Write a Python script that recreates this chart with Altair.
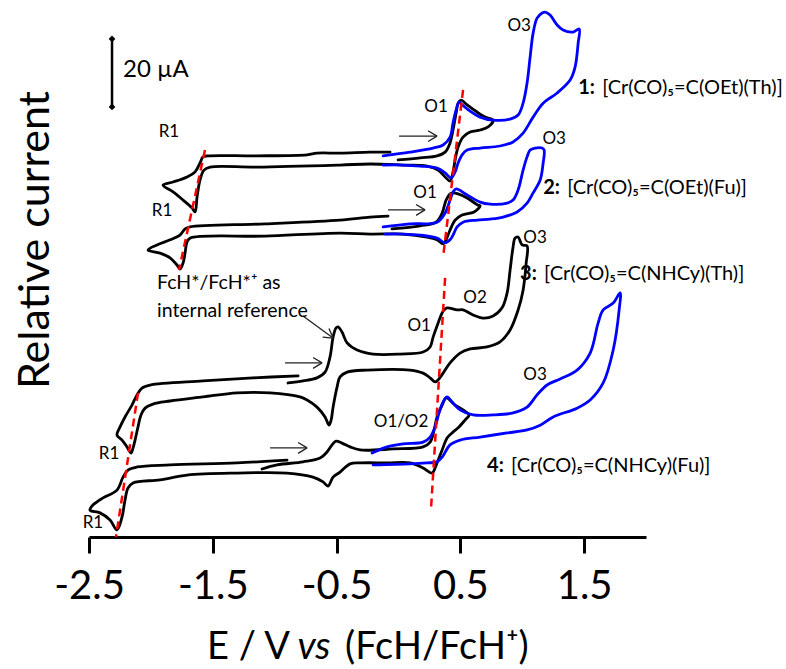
import altair as alt
import pandas as pd

FONT = "Lato"

# ---------------- CV traces (E in V vs FcH/FcH+, I in uA incl. vertical offset) -------------
c1k_E = [-0.003, 0.175, 0.312, 0.377, 0.417, 0.441, 0.466, 0.482, 0.506, 0.555, 0.635, 0.700, 0.765,
         0.724, 0.660, 0.579, 0.522, 0.482, 0.458, 0.441, 0.417, 0.377, 0.320, 0.231, 0.037, -0.229,
         -0.472, -1.142, -1.522, -1.571, -1.603, -1.627, -1.643, -1.668, -1.740, -1.821, -1.902,
         -1.821, -1.708, -1.643, -1.603, -1.579, -1.538, -1.142, -0.738, -0.658, -0.472, -0.229, -0.068]
c1k_I = [110.9, 111.5, 112.1, 113.2, 115.9, 119.7, 124.7, 127.6, 128.5, 127.1, 125.0, 123.5, 122.6,
         120.6, 119.7, 119.1, 117.6, 114.7, 110.9, 107.4, 104.7, 105.9, 107.9, 109.1, 109.4, 109.7,
         109.4, 108.8, 108.8, 107.9, 105.0, 100.0, 95.6, 96.8, 99.1, 101.5, 103.5,
         104.4, 105.9, 107.4, 110.0, 111.8, 112.1, 112.1, 112.4, 112.9, 112.9, 113.2, 113.2]

c1b_E = [-0.124, 0.094, 0.280, 0.361, 0.417, 0.441, 0.466, 0.490, 0.506, 0.555, 0.660, 0.765, 0.902,
         0.967, 1.007, 1.039, 1.064, 1.088, 1.120, 1.161, 1.185, 1.225, 1.282, 1.330, 1.411, 1.460,
         1.452, 1.427, 1.387, 1.282, 1.169, 1.088, 1.007, 0.926, 0.821, 0.660, 0.555, 0.514, 0.482,
         0.458, 0.425, 0.377, 0.312, 0.175, 0.037, -0.124]
c1b_I = [112.1, 113.2, 114.4, 115.3, 117.6, 121.8, 125.6, 127.9, 127.4, 125.9, 123.5, 122.6, 122.9,
         124.1, 127.6, 133.5, 141.2, 148.2, 152.6, 154.1, 154.4, 153.5, 150.6, 149.1, 148.5, 149.4,
         145.3, 138.2, 134.4, 130.6, 127.6, 123.5, 118.8, 116.2, 115.0, 114.4, 113.8, 112.4, 110.0,
         107.4, 105.6, 107.1, 108.5, 109.1, 109.4, 109.4]

c2k_E = [-0.052, 0.175, 0.304, 0.353, 0.385, 0.417, 0.441, 0.482, 0.555, 0.643, 0.660, 0.611, 0.514,
         0.458, 0.417, 0.385, 0.361, 0.312, 0.231, 0.037, -0.229, -0.472, -1.078, -1.684, -1.708,
         -1.724, -1.740, -1.765, -1.789, -1.845, -1.926, -2.023, -1.951, -1.845, -1.765, -1.724,
         -1.684, -1.078, -0.472, -0.229, -0.084]
c2k_I = [90.6, 91.5, 92.6, 95.3, 99.1, 100.9, 101.2, 100.9, 99.7, 97.6, 97.4, 95.6, 94.7,
         93.2, 90.3, 87.4, 86.2, 87.4, 88.2, 89.1, 89.1, 89.4, 88.5, 87.9, 86.8,
         83.5, 80.6, 78.8, 80.0, 82.1, 83.5, 84.4, 85.9, 87.4, 88.8, 90.6,
         91.2, 92.1, 93.2, 94.1, 94.4]

c2b_E = [-0.124, 0.094, 0.312, 0.377, 0.417, 0.441, 0.466, 0.555, 0.660, 0.740, 0.878, 0.926, 0.967,
         1.007, 1.039, 1.064, 1.104, 1.161, 1.177, 1.169, 1.145, 1.088, 1.039, 0.959, 0.845, 0.740,
         0.635, 0.522, 0.474, 0.441, 0.417, 0.377, 0.312, 0.175, 0.037, -0.108]
c2b_I = [91.2, 92.1, 92.6, 95.3, 99.1, 101.5, 102.4, 100.6, 98.5, 97.9, 98.2, 99.1, 102.1,
         107.9, 111.8, 113.8, 114.4, 114.4, 113.8, 110.0, 105.0, 101.2, 98.2, 95.6, 94.1, 93.5,
         93.2, 92.6, 91.2, 88.8, 87.4, 86.5, 87.9, 88.8, 89.1, 89.1]

c3k_E = [-0.892, -0.771, -0.658, -0.593, -0.553, -0.528, -0.504, -0.488, -0.456, -0.415, -0.334,
         -0.205, 0.013, 0.199, 0.256, 0.280, 0.320, 0.353, 0.369, 0.393, 0.474, 0.522, 0.603, 0.684,
         0.765, 0.837, 0.878, 0.902, 0.926, 0.942, 0.967, 0.999, 1.039, 1.032, 1.007, 0.967, 0.902,
         0.821, 0.716, 0.579, 0.498, 0.417, 0.361, 0.320, 0.296, 0.256, 0.199, 0.094, -0.254, -0.415,
         -0.472, -0.496, -0.528, -0.544, -0.561, -0.593, -0.658, -0.738, -0.795, -1.037, -1.304,
         -1.579, -1.845, -1.983, -2.047, -2.080, -2.104, -2.128, -2.144, -2.161, -2.193, -2.233,
         -2.274, -2.249, -2.209, -2.153, -2.112, -2.072, -2.007, -1.579, -1.175, -0.811]
c3k_I = [45.3, 45.9, 46.8, 48.5, 52.9, 58.8, 61.5, 61.8, 60.3, 57.1, 55.0,
         53.8, 53.8, 54.4, 55.9, 58.8, 62.9, 65.9, 66.8, 67.4, 66.8, 66.8, 65.3, 64.4,
         65.0, 67.4, 71.8, 78.5, 85.3, 87.9, 88.2, 85.9, 85.6, 80.6, 72.6, 66.8, 60.9,
         57.4, 55.9, 55.3, 54.1, 51.2, 48.2, 46.2, 45.6, 46.8, 48.2, 49.1, 49.1, 48.5,
         47.1, 44.1, 38.2, 34.4, 32.9, 35.3, 38.2, 40.3, 41.2, 42.4, 42.4,
         41.2, 40.0, 39.1, 37.9, 35.9, 32.4, 28.5, 26.2, 24.7, 26.5, 28.5,
         30.0, 32.4, 35.3, 38.8, 41.8, 43.8, 44.7, 45.9, 46.8, 47.4]

c4k_E = [-1.102, -0.981, -0.771, -0.633, -0.577, -0.536, -0.504, -0.456, -0.391, -0.310, -0.043,
         0.199, 0.256, 0.288, 0.312, 0.353, 0.385, 0.458, 0.522, 0.571, 0.538, 0.482, 0.433, 0.393,
         0.353, 0.320, 0.296, 0.272, 0.199, 0.094, -0.092, -0.310, -0.391, -0.472, -0.528, -0.569,
         -0.609, -0.690, -0.900, -1.304, -1.708, -1.926, -2.144, -2.185, -2.209, -2.233, -2.274,
         -2.330, -2.411, -2.492, -2.468, -2.387, -2.274, -2.225, -2.185, -2.112, -1.845, -1.304, -0.900]
c4k_I = [20.0, 21.2, 22.1, 23.2, 25.0, 27.1, 28.2, 27.6, 26.5, 25.6, 25.9,
         26.5, 27.9, 31.5, 35.3, 38.8, 40.9, 38.8, 37.4, 35.9, 34.4, 32.1, 30.6, 29.1,
         25.6, 22.6, 20.3, 18.8, 20.3, 21.8, 21.8, 21.8, 21.5, 19.1, 17.6, 15.0,
         16.2, 17.6, 18.8, 18.8, 18.2, 16.8, 15.9, 14.4, 10.9, 5.9, 2.1,
         5.0, 7.1, 7.9, 9.4, 11.5, 13.8, 17.6, 19.7, 20.6, 21.2, 21.8, 22.6]

c4b_E = [-0.213, -0.092, 0.037, 0.199, 0.256, 0.296, 0.328, 0.361, 0.393, 0.433, 0.498, 0.603,
         0.765, 0.926, 1.039, 1.120, 1.201, 1.306, 1.443, 1.549, 1.613, 1.654, 1.735, 1.791, 1.783,
         1.735, 1.654, 1.549, 1.443, 1.250, 1.145, 1.039, 0.878, 0.660, 0.498, 0.417, 0.353, 0.312,
         0.231, 0.094, -0.205]
c4b_I = [24.7, 26.5, 27.4, 27.9, 29.4, 32.4, 36.5, 39.7, 41.2, 39.7, 37.4, 35.9,
         35.9, 36.5, 38.2, 41.8, 44.7, 46.5, 49.1, 54.1, 62.9, 66.8, 68.8, 71.8, 66.8,
         55.0, 45.3, 40.3, 37.9, 35.3, 32.9, 31.5, 30.6, 29.4, 28.5, 27.1, 23.5, 22.1,
         21.8, 21.5, 21.2]

traces = [("c1k", c1k_E, c1k_I, "black"), ("c2k", c2k_E, c2k_I, "black"),
          ("c3k", c3k_E, c3k_I, "black"), ("c4k", c4k_E, c4k_I, "black"),
          ("c1b", c1b_E, c1b_I, "#0000ff"), ("c2b", c2b_E, c2b_I, "#0000ff"),
          ("c4b", c4b_E, c4b_I, "#0000ff")]

# ---------------- reference (red dashed) lines ----------------
ref_E = [[-1.563, -1.773], [0.522, 0.361], [-2.104, -2.282], [0.377, 0.264]]
ref_I = [[113.8, 78.5], [131.5, 82.4], [42.4, 0.0], [76.2, 8.8]]

# ---------------- arrows ----------------
arrow_E = [[0.005, 0.312], [-0.084, 0.215], [-0.916, -0.617], [-1.037, -0.738], [-0.771, -0.528]]
arrow_I = [[117.9, 117.9], [96.2, 96.2], [51.2, 51.2], [26.2, 26.2], [65.0, 58.5]]
arrow_angle = [0, 0, 0, 0, 36]

# ---------------- scale bar ----------------
sb_E = [-2.314, -2.314]
sb_I = [126.5, 146.5]
sb_text = ["20 µA"]
sb_text_E = [-2.225]
sb_text_I = [137.4]

# ---------------- labels ----------------
lab_text = ["R1", "R1", "R1", "R1", "O1", "O1", "O3", "O3", "O3", "O2", "O1", "O3", "O1/O2"]
lab_E = [-1.854, -1.910, -2.338, -2.468, 0.304, 0.215, 0.975, 1.258, 1.104, 0.619, 0.167, 1.104, 0.021]
lab_I = [119.1, 95.9, 24.4, 4.1, 126.5, 101.2, 150.3, 117.1, 87.9, 70.3, 62.1, 47.6, 33.8]

fc_text = ["FcH*/FcH*⁺ as", "internal reference"]
fc_E = [-1.951, -1.951]
fc_I = [74.7, 66.5]

cmpd_num = ["1:", "2:", "3:", "4:"]
cmpd_name = ["[Cr(CO)₅=C(OEt)(Th)]", "[Cr(CO)₅=C(OEt)(Fu)]",
             "[Cr(CO)₅=C(NHCy)(Th)]", "[Cr(CO)₅=C(NHCy)(Fu)]"]
cmpd_E = [1.452, 1.169, 0.983, 0.716]
cmpd_I = [132.1, 102.6, 77.4, 20.9]

tick_values = [-2.5, -1.5, -0.5, 0.5, 1.5]

# ---------------- build tables ----------------
rows = []
for name, Es, Is, col in traces:
    for i, (e, c) in enumerate(zip(Es, Is)):
        rows.append({"curve": name, "idx": i, "E": e, "I": c, "color": col})
df = pd.DataFrame(rows)

ref_rows = []
for k, (es, is_) in enumerate(zip(ref_E, ref_I)):
    for j in range(2):
        ref_rows.append({"line": k, "idx": j, "E": es[j], "I": is_[j]})
ref_df = pd.DataFrame(ref_rows)

arr_rows, head_rows = [], []
for k, (es, is_) in enumerate(zip(arrow_E, arrow_I)):
    for j in range(2):
        arr_rows.append({"arrow": k, "idx": j, "E": es[j], "I": is_[j]})
    head_rows.append({"E": es[1], "I": is_[1], "angle": arrow_angle[k]})
arr_df = pd.DataFrame(arr_rows)
head_df = pd.DataFrame(head_rows)

sb_df = pd.DataFrame({"E": sb_E, "I": sb_I, "idx": [0, 1]})
sbt_df = pd.DataFrame({"E": sb_text_E, "I": sb_text_I, "t": sb_text})
lab_df = pd.DataFrame({"E": lab_E, "I": lab_I, "t": lab_text})
fc_df = pd.DataFrame({"E": fc_E, "I": fc_I, "t": fc_text})
cm_df = pd.DataFrame({"E": cmpd_E, "I": cmpd_I, "num": cmpd_num, "name": cmpd_name})

# ---------------- encodings ----------------
xs = alt.Scale(domain=[-2.5, 2.0], nice=False, zero=False)
ys = alt.Scale(domain=[0, 156.47], nice=False, zero=False)
xaxis = alt.Axis(values=tick_values, title=None, grid=False, labelFlush=False,
                 labelExpr="datum.value < 0 ? '-' + format(-datum.value, '.1f') : format(datum.value, '.1f')",
                 domainColor="black", domainWidth=3, tickColor="black", tickWidth=3, tickSize=16,
                 labelFont=FONT, labelFontSize=40, labelColor="black", labelPadding=13)
X = alt.X("E:Q", scale=xs, axis=xaxis)
Y = alt.Y("I:Q", scale=ys, axis=None)

curves = alt.Chart(df).mark_line(strokeWidth=2.8, interpolate="catmull-rom",
                                 strokeJoin="round", strokeCap="round", clip=False).encode(
    x=X, y=Y, detail="curve:N", order="idx:Q", color=alt.Color("color:N", scale=None))

refs = alt.Chart(ref_df).mark_line(color="#ff0000", strokeWidth=2.5, strokeDash=[8, 5]).encode(
    x=X, y=Y, detail="line:N", order="idx:Q")

arrows = alt.Chart(arr_df).mark_line(color="#222222", strokeWidth=1.3).encode(
    x=X, y=Y, detail="arrow:N", order="idx:Q")
heads = alt.Chart(head_df).mark_point(shape="M0,0L-1,-0.6M0,0L-1,0.6", size=324, filled=False,
                                      stroke="#222222", strokeWidth=1.3, opacity=1).encode(
    x=X, y=Y, angle=alt.Angle("angle:Q", scale=None))

sbar = alt.Chart(sb_df).mark_line(color="black", strokeWidth=2.5).encode(x=X, y=Y, order="idx:Q")
sdia = alt.Chart(sb_df).mark_point(shape="diamond", size=45, filled=True, color="black",
                                   opacity=1).encode(x=X, y=Y)
stext = alt.Chart(sbt_df).mark_text(font=FONT, fontSize=24, align="left", baseline="middle",
                                    color="black").encode(x=X, y=Y, text="t:N")

labels = alt.Chart(lab_df).mark_text(font=FONT, fontSize=17, align="center", baseline="middle",
                                     color="black").encode(x=X, y=Y, text="t:N")
fcl = alt.Chart(fc_df).mark_text(font=FONT, fontSize=19.5, align="left", baseline="middle",
                                 color="black").encode(x=X, y=Y, text="t:N")
cnum = alt.Chart(cm_df).mark_text(font=FONT, fontSize=20, fontWeight="bold", align="left",
                                  baseline="middle", color="black").encode(x=X, y=Y, text="num:N")
cname = alt.Chart(cm_df).mark_text(font=FONT, fontSize=20, align="left", baseline="middle",
                                   color="black", dx=24).encode(x=X, y=Y, text="name:N")

one = pd.DataFrame({"t": ["Relative current"]})
ytitle = alt.Chart(one).mark_text(font=FONT, fontSize=43, angle=270, align="center",
                                  baseline="middle", color="black").encode(
    x=alt.value(-53), y=alt.value(235), text="t:N")

t1 = alt.Chart(pd.DataFrame({"t": ["E / V"]})).mark_text(
    font=FONT, fontSize=38, align="right", baseline="middle", color="black").encode(
    x=alt.value(201), y=alt.value(643), text="t:N")
t2 = alt.Chart(pd.DataFrame({"t": ["vs"]})).mark_text(
    font=FONT, fontSize=38, fontStyle="italic", align="center", baseline="middle", color="black").encode(
    x=alt.value(225), y=alt.value(643), text="t:N")
t3 = alt.Chart(pd.DataFrame({"t": ["(FcH/FcH⁺)"]})).mark_text(
    font=FONT, fontSize=38, align="left", baseline="middle", color="black").encode(
    x=alt.value(256), y=alt.value(643), text="t:N")

chart = alt.layer(curves, refs, arrows, heads, sbar, sdia, stext, labels, fcl, cnum, cname,
                  ytitle, t1, t2, t3).properties(
    width=557, height=532, autosize="none",
    padding={"left": 89, "top": 5, "right": 140, "bottom": 132},
    background="white").configure_view(stroke=None)

chart.save("out.html", embed_options={"renderer": "svg", "actions": False})
